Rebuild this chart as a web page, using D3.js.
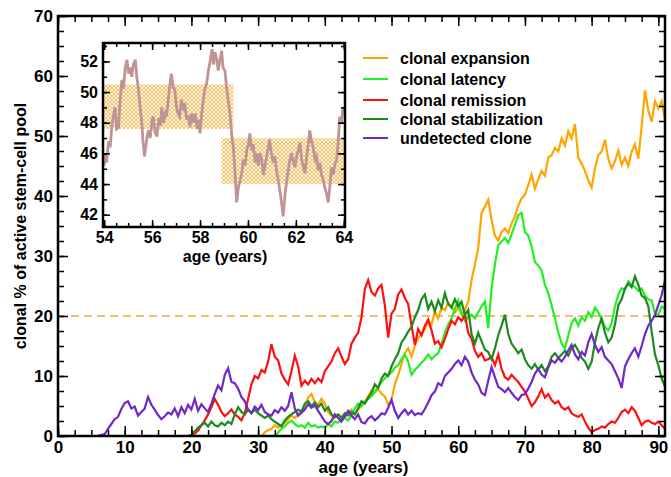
<!DOCTYPE html>
<html>
<head>
<meta charset="utf-8">
<script src="https://cdn.jsdelivr.net/npm/d3@7"></script>
<style>
  body { margin: 0; background: #fff; }
  svg { display: block; font-family: "Liberation Sans", Arial, sans-serif; font-weight: bold; }
  .tick text { font-family: "Liberation Sans", Arial, sans-serif; font-weight: bold; fill: #000; }
  .tick line { stroke: #000; stroke-width: 1.5; }
</style>
</head>
<body>
<div id="chart"></div>
<script>
// Sampling step of the main traces (years)
const ageStep = 0.5;

// Series names / colours (legend order)
const seriesNames = ['clonal expansion', 'clonal latency', 'clonal remission', 'clonal stabilization', 'undetected clone'];
const seriesColors = ['#ffa500', '#22f022', '#ff1010', '#1e8a1e', '#7028c8'];

// First age of each trace
const expansionStart = 30.5;
const latencyStart = 32.5;
const remissionStart = 20;
const stabilizationStart = 19.5;
const undetectedStart = 6;

// Clonal % values, one every 0.5 year from the start age
const expansionValues = [
  0, 0.6, 1.0, 1.2, 1.8, 1.4, 1.8, 2.2, 2.8, 3.4, 3.0, 3.6, 4.2, 5.0, 6.4, 7.0, 5.6, 5.2, 6.2, 5.4,
  4.0, 3.4, 3.0, 3.6, 3.2, 3.0, 3.8, 4.4, 3.6, 4.4, 5.0, 5.6, 6.6, 7.6, 7.2, 7.8, 7.0, 6.6, 5.2, 6.0,
  8.6, 10.2, 12.0, 13.8, 14.6, 13.2, 15.0, 16.4, 17.0, 17.8, 19.2, 18.6, 20.8, 19.6, 21.4, 21.0, 22.2, 21.6, 20.6, 21.4,
  20.2, 21.0, 22.4, 26.0, 28.6, 31.4, 37.2, 38.2, 39.4, 36.0, 33.4, 32.6, 34.0, 34.6, 33.8, 35.4, 36.6, 38.4, 39.6, 40.2,
  41.8, 43.6, 41.2, 42.8, 44.2, 43.4, 46.4, 46.8, 48.0, 47.4, 49.6, 48.4, 50.8, 49.6, 52.0, 46.4, 45.4, 44.2, 42.6, 41.4,
  44.6, 46.8, 47.4, 49.4, 46.2, 44.6, 45.8, 47.6, 45.2, 46.4, 45.0, 47.4, 48.6, 46.2, 51.6, 57.6, 54.2, 52.4, 55.8, 54.6,
  55.8, 52.6
];
const latencyValues = [
  0, 0.6, 1.2, 1.6, 2.2, 2.6, 2.0, 1.6, 1.8, 1.4, 2.2, 1.6, 1.8, 1.4, 1.6, 1.4, 2.0, 1.6, 2.4, 2.2,
  2.8, 3.0, 2.6, 3.4, 4.6, 5.4, 5.0, 5.8, 6.2, 6.6, 7.4, 8.2, 9.0, 9.6, 10.2, 10.6, 11.4, 11.8, 12.8, 13.6,
  12.4, 10.2, 11.0, 11.6, 12.2, 12.8, 13.6, 12.8, 13.4, 13.8, 15.4, 17.2, 18.6, 19.6, 21.2, 22.6, 20.4, 19.2, 19.8, 20.2,
  19.6, 20.6, 21.6, 22.4, 18.0, 24.6, 28.6, 31.8, 32.4, 33.0, 32.2, 33.6, 35.2, 36.8, 37.2, 34.0, 33.4, 31.6, 29.0, 28.4,
  27.6, 25.2, 23.8, 21.8, 19.6, 17.2, 15.4, 14.6, 16.8, 18.8, 19.6, 18.4, 19.8, 19.2, 20.6, 19.8, 21.4, 20.6, 19.4, 18.2,
  17.6, 18.8, 21.6, 23.6, 24.6, 24.4, 25.8, 25.2, 24.8, 24.2, 24.6, 23.4, 22.8, 22.6, 20.4, 20.2, 21.6, 21.2
];
const remissionValues = [
  0, 0.4, 0.9, 1.8, 2.6, 3.6, 4.8, 6.2, 5.2, 4.0, 3.3, 3.8, 4.4, 3.6, 3.2, 2.6, 3.8, 6.2, 8.6, 10.0,
  9.6, 11.0, 10.6, 12.4, 15.3, 13.2, 12.6, 10.4, 9.4, 8.6, 10.8, 13.4, 11.6, 8.4, 9.2, 8.6, 9.5, 8.8, 9.6, 9.0,
  10.8, 11.6, 12.4, 13.8, 14.6, 13.2, 12.0, 12.8, 15.4, 16.4, 17.2, 19.8, 24.5, 26.0, 24.0, 23.4, 24.6, 25.2, 21.8, 16.4,
  20.4, 21.2, 23.6, 24.4, 23.0, 22.0, 18.4, 15.2, 17.8, 16.8, 18.4, 19.4, 17.6, 15.4, 15.8, 14.8, 16.2, 17.8, 19.2, 18.6,
  19.8, 19.2, 20.2, 17.2, 16.2, 14.2, 13.2, 13.8, 12.6, 12.8, 13.2, 11.8, 13.6, 11.2, 9.8, 9.4, 10.2, 9.6, 9.0, 8.2,
  7.4, 6.2, 5.0, 5.6, 6.6, 7.8, 6.4, 7.0, 6.0, 5.4, 5.8, 4.8, 4.4, 4.8, 3.8, 3.4, 3.2, 3.6, 2.4, 1.4,
  0.6, 1.0, 1.2, 1.6, 1.4, 2.0, 2.4, 2.2, 3.0, 4.0, 4.4, 3.8, 4.8, 4.2, 3.0, 1.8, 2.4, 2.6, 2.2, 2.0,
  2.4, 1.8, 1.2
];
const stabilizationValues = [
  0, 0.2, 0.8, 1.4, 1.8, 2.2, 1.6, 2.4, 1.8, 1.6, 2.2, 1.8, 2.4, 2.0, 3.6, 4.8, 4.0, 3.6, 4.4, 3.8,
  4.4, 3.8, 3.4, 3.0, 3.4, 2.8, 2.4, 2.0, 1.6, 2.6, 3.2, 3.6, 4.0, 4.4, 4.0, 5.4, 5.8, 5.0, 5.6, 4.8,
  5.4, 4.2, 4.8, 3.6, 3.2, 3.6, 3.0, 3.8, 3.4, 4.0, 3.6, 4.6, 5.8, 5.4, 6.4, 7.2, 8.6, 8.0, 9.6, 10.4,
  10.0, 11.6, 12.8, 13.8, 15.6, 16.4, 17.4, 18.2, 19.8, 21.0, 22.8, 23.6, 21.2, 22.4, 20.8, 22.6, 21.4, 23.8, 22.0, 21.4,
  22.8, 21.6, 22.4, 20.2, 21.0, 17.0, 15.4, 17.2, 15.8, 14.4, 14.0, 12.8, 14.6, 16.8, 18.4, 20.2, 17.0, 15.4, 14.6, 13.8,
  14.4, 12.8, 11.8, 11.2, 12.0, 11.0, 11.8, 10.8, 11.6, 13.2, 13.8, 13.0, 13.6, 14.2, 13.4, 14.6, 15.2, 14.2, 13.0, 12.4,
  11.2, 12.4, 15.6, 18.0, 19.6, 17.2, 15.6, 16.4, 18.6, 21.8, 22.8, 24.6, 25.4, 24.8, 26.6, 25.2, 23.4, 23.0, 21.6, 17.4,
  13.6, 11.8, 9.6, 8.2
];
const undetectedValues = [
  0, 0.2, 0.3, 1.2, 2.0, 2.8, 3.2, 4.5, 5.5, 5.8, 4.6, 4.9, 3.4, 4.0, 4.6, 6.5, 5.2, 4.4, 3.5, 2.8,
  3.3, 3.9, 3.6, 4.6, 3.3, 4.8, 3.8, 5.2, 4.4, 6.2, 4.2, 5.3, 4.6, 4.0, 5.4, 7.0, 8.4, 7.6, 10.2, 11.3,
  9.0, 8.8, 7.9, 6.5, 5.8, 4.4, 3.8, 4.9, 4.3, 5.2, 4.0, 3.6, 3.4, 4.3, 3.9, 4.8, 4.2, 5.0, 7.3, 4.6,
  3.4, 3.9, 4.4, 5.3, 4.7, 5.1, 4.2, 3.3, 2.4, 2.0, 2.5, 3.6, 3.0, 2.4, 3.3, 4.2, 3.4, 2.8, 3.6, 2.3,
  2.1, 2.9, 3.3, 2.6, 3.1, 3.8, 3.6, 4.7, 6.0, 4.2, 3.0, 3.8, 4.4, 3.6, 4.2, 3.5, 3.8, 3.6, 4.5, 5.6,
  6.8, 7.4, 8.8, 8.4, 10.0, 10.6, 11.2, 12.0, 12.6, 11.8, 13.2, 12.4, 10.6, 9.4, 8.6, 7.2, 6.8, 9.2, 11.5, 9.8,
  8.2, 7.8, 7.3, 8.0, 7.2, 6.5, 6.0, 6.8, 7.0, 7.9, 9.0, 10.4, 11.2, 10.2, 9.8, 11.4, 12.6, 12.2, 13.0, 12.4,
  13.2, 14.3, 15.2, 13.6, 12.8, 14.0, 13.4, 15.6, 17.0, 15.2, 14.0, 14.8, 13.2, 12.6, 12.0, 10.8, 9.6, 8.0, 11.6, 12.8,
  13.8, 14.6, 13.2, 15.0, 17.0, 18.4, 19.2, 20.2, 21.8, 23.5, 26.0
];

// Threshold line
const thresholdValue = 20;

// Inset trace (ages 54-64)
const insetAges = [
  54.0, 54.05, 54.1, 54.18, 54.25, 54.32, 54.4, 54.46, 54.52, 54.6, 54.66, 54.74, 54.8, 54.88, 54.95, 55.02, 55.08, 55.15, 55.22, 55.3,
  55.36, 55.42, 55.5, 55.57, 55.62, 55.68, 55.75, 55.8, 55.85, 55.92, 56.0, 56.05, 56.12, 56.2, 56.28, 56.35, 56.4, 56.48, 56.55, 56.6,
  56.68, 56.75, 56.8, 56.88, 56.95, 57.02, 57.08, 57.15, 57.22, 57.3, 57.36, 57.44, 57.5, 57.58, 57.65, 57.72, 57.8, 57.88, 57.95, 58.0,
  58.07, 58.14, 58.2, 58.28, 58.35, 58.42, 58.5, 58.56, 58.62, 58.7, 58.76, 58.83, 58.9, 58.96, 59.04, 59.1, 59.18, 59.25, 59.32, 59.39,
  59.45, 59.53, 59.6, 59.67, 59.74, 59.8, 59.88, 59.95, 60.02, 60.08, 60.15, 60.22, 60.3, 60.38, 60.44, 60.5, 60.58, 60.64, 60.7, 60.78,
  60.85, 60.9, 60.98, 61.05, 61.12, 61.2, 61.26, 61.33, 61.4, 61.47, 61.54, 61.6, 61.68, 61.75, 61.82, 61.9, 61.96, 62.04, 62.1, 62.17,
  62.24, 62.3, 62.38, 62.45, 62.52, 62.58, 62.65, 62.72, 62.8, 62.86, 62.93, 63.0, 63.07, 63.14, 63.2, 63.28, 63.35, 63.42, 63.49, 63.56,
  63.63, 63.7, 63.77, 63.83, 63.9, 63.97, 64.0
];
const insetValues = [
  45.2, 46.0, 45.4, 46.8, 46.4, 47.8, 48.6, 49.0, 47.6, 47.7, 49.4, 50.8, 50.2, 51.6, 52.1, 51.2, 51.6, 51.0, 51.8, 52.1,
  51.0, 50.3, 49.0, 48.0, 46.8, 45.8, 46.6, 47.2, 47.5, 47.0, 48.2, 48.4, 47.4, 47.1, 48.3, 47.8, 49.0, 48.0, 48.6, 48.4,
  49.6, 50.6, 51.2, 50.3, 50.1, 49.0, 48.6, 48.4, 49.5, 48.8, 49.3, 48.2, 48.5, 47.7, 48.6, 48.0, 48.6, 47.6, 48.2, 47.3,
  48.6, 49.5, 50.2, 50.6, 51.4, 52.0, 52.8, 51.8, 52.6, 52.1, 51.4, 52.1, 52.7, 51.6, 51.4, 50.4, 49.4, 48.6, 47.2, 46.4,
  45.0, 42.8, 43.8, 44.2, 44.7, 45.6, 45.2, 46.2, 46.6, 47.3, 46.2, 46.6, 45.4, 46.0, 45.2, 46.0, 45.6, 44.6, 45.1, 45.8,
  46.4, 46.9, 46.0, 45.4, 45.8, 44.8, 44.3, 43.6, 42.8, 41.9, 43.2, 44.0, 44.9, 45.6, 46.0, 45.4, 45.1, 45.9, 46.2, 46.7,
  45.6, 45.2, 44.7, 45.8, 46.6, 47.5, 46.8, 46.4, 45.6, 45.8, 44.9, 45.4, 44.6, 44.3, 43.8, 43.4, 42.8, 43.9, 45.1, 44.6,
  45.3, 45.6, 46.8, 48.4, 48.0, 49.0, 48.7
];

// Shaded bands in the inset: [ageFrom, ageTo, low, high]
const bandAgeFrom = [54, 58.9];
const bandAgeTo = [59.4, 64];
const bandLow = [47.6, 44.0];
const bandHigh = [50.5, 47.0];

// Build points from a start age and a list of values
function toPoints(start, values) {
    return values.map((v, i) => ({ age: start + i * ageStep, value: v }));
}

const series = [
    toPoints(expansionStart, expansionValues),
    toPoints(latencyStart, latencyValues),
    toPoints(remissionStart, remissionValues),
    toPoints(stabilizationStart, stabilizationValues),
    toPoints(undetectedStart, undetectedValues)
];

const W = 671, H = 477;
const svg = d3.select('#chart').append('svg')
    .attr('width', W)
    .attr('height', H);

// Stipple pattern for the inset bands (diagonal dot grid)
const defs = svg.append('defs');
const pat = defs.append('pattern')
    .attr('id', 'stipple')
    .attr('width', 4).attr('height', 4)
    .attr('patternUnits', 'userSpaceOnUse');
pat.append('rect').attr('width', 4).attr('height', 4).attr('fill', '#fff6e2');
pat.append('circle').attr('cx', 1).attr('cy', 1).attr('r', 0.9).attr('fill', '#f5a832');
pat.append('circle').attr('cx', 3).attr('cy', 3).attr('r', 0.9).attr('fill', '#f5a832');

// Draw inward ticks on all four sides of a frame
function drawFrameAxes(g, x, y, w, h, opt) {
    const sides = [
        { axis: d3.axisBottom, scale: x, t: `translate(0,${h})`, labels: true, vals: opt.xMajor, minor: opt.xMinor },
        { axis: d3.axisTop, scale: x, t: 'translate(0,0)', labels: false, vals: opt.xMajor, minor: opt.xMinor },
        { axis: d3.axisLeft, scale: y, t: 'translate(0,0)', labels: true, vals: opt.yMajor, minor: opt.yMinor },
        { axis: d3.axisRight, scale: y, t: `translate(${w},0)`, labels: false, vals: opt.yMajor, minor: opt.yMinor }
    ];
    sides.forEach(s => {
        const minorAxis = s.axis(s.scale).tickValues(s.minor).tickSize(-opt.minorLen).tickFormat('');
        g.append('g').attr('transform', s.t).call(minorAxis).call(a => a.select('.domain').remove());
        const majorAxis = s.axis(s.scale).tickValues(s.vals).tickSize(-opt.majorLen)
            .tickPadding(opt.pad).tickFormat(s.labels ? d3.format('d') : '');
        const ag = g.append('g').attr('transform', s.t).call(majorAxis);
        ag.select('.domain').remove();
        ag.selectAll('text').style('font-size', opt.fontSize + 'px');
    });
    g.append('rect')
        .attr('width', w).attr('height', h)
        .attr('fill', 'none').attr('stroke', '#000').attr('stroke-width', 2.5);
}

// ---- Main chart ----
const margin = { top: 16, left: 58 };
const width = 607, height = 420;

const x = d3.scaleLinear().domain([0, 91]).range([0, width]);
const y = d3.scaleLinear().domain([0, 70]).range([height, 0]);

const g = svg.append('g').attr('transform', `translate(${margin.left},${margin.top})`);

defs.append('clipPath').attr('id', 'clipMain')
    .append('rect').attr('width', width).attr('height', height);

const plot = g.append('g').attr('clip-path', 'url(#clipMain)');

// Dashed threshold
plot.append('line')
    .attr('x1', x(0)).attr('x2', x(91))
    .attr('y1', y(thresholdValue)).attr('y2', y(thresholdValue))
    .attr('stroke', '#f2a93b').attr('stroke-width', 1.6)
    .attr('stroke-dasharray', '8,5');

const line = d3.line().x(d => x(d.age)).y(d => y(d.value));

series.forEach((pts, i) => {
    plot.append('path')
        .datum(pts)
        .attr('d', line)
        .attr('fill', 'none')
        .attr('stroke', seriesColors[i])
        .attr('stroke-width', 2.2)
        .attr('stroke-linejoin', 'miter');
});

drawFrameAxes(g, x, y, width, height, {
    xMajor: d3.range(0, 91, 10),
    xMinor: d3.range(0, 91, 2.5),
    yMajor: d3.range(0, 71, 10),
    yMinor: d3.range(0, 71, 2.5),
    majorLen: 10, minorLen: 6, pad: 5, fontSize: 17
});

g.append('text')
    .attr('x', width / 2 + 2).attr('y', height + 37)
    .attr('text-anchor', 'middle')
    .style('font-size', '17px')
    .text('age (years)');

svg.append('text')
    .attr('transform', `translate(26,${margin.top + height / 2}) rotate(-90)`)
    .attr('text-anchor', 'middle')
    .style('font-size', '16px')
    .text('clonal % of active stem-cell pool');

// ---- Legend ----
const legendRows = [58, 79, 100, 119, 138];
const legend = svg.append('g');
seriesNames.forEach((name, i) => {
    legend.append('line')
        .attr('x1', 363).attr('x2', 388)
        .attr('y1', legendRows[i]).attr('y2', legendRows[i])
        .attr('stroke', seriesColors[i]).attr('stroke-width', 2);
    legend.append('text')
        .attr('x', 400).attr('y', legendRows[i] + 6)
        .style('font-size', '16px')
        .text(name);
});

// ---- Inset ----
const inset = { left: 103, top: 43, width: 242, height: 184 };
const xi = d3.scaleLinear().domain([53.95, 64.05]).range([0, inset.width]);
const yi = d3.scaleLinear().domain([41.2, 53.2]).range([inset.height, 0]);

const gi = svg.append('g').attr('transform', `translate(${inset.left},${inset.top})`);
gi.append('rect').attr('width', inset.width).attr('height', inset.height).attr('fill', '#fff');

defs.append('clipPath').attr('id', 'clipInset')
    .append('rect').attr('width', inset.width).attr('height', inset.height);
const ip = gi.append('g').attr('clip-path', 'url(#clipInset)');

bandAgeFrom.forEach((a, i) => {
    ip.append('rect')
        .attr('x', xi(a)).attr('width', xi(bandAgeTo[i]) - xi(a))
        .attr('y', yi(bandHigh[i])).attr('height', yi(bandLow[i]) - yi(bandHigh[i]))
        .attr('fill', 'url(#stipple)');
});

const insetLine = d3.line().x((d, i) => xi(insetAges[i])).y(d => yi(d));
ip.append('path')
    .datum(insetValues)
    .attr('d', insetLine)
    .attr('fill', 'none')
    .attr('stroke', '#bf9494')
    .attr('stroke-width', 2.8)
    .attr('stroke-linejoin', 'miter');

drawFrameAxes(gi, xi, yi, inset.width, inset.height, {
    xMajor: d3.range(54, 64.1, 2),
    xMinor: d3.range(54, 64.1, 0.5),
    yMajor: d3.range(42, 52.1, 2),
    yMinor: d3.range(42, 53.1, 1),
    majorLen: 7, minorLen: 4, pad: 5, fontSize: 16
});

gi.append('text')
    .attr('x', inset.width / 2 + 1).attr('y', inset.height + 35)
    .attr('text-anchor', 'middle')
    .style('font-size', '16px')
    .text('age (years)');
</script>
</body>
</html>
